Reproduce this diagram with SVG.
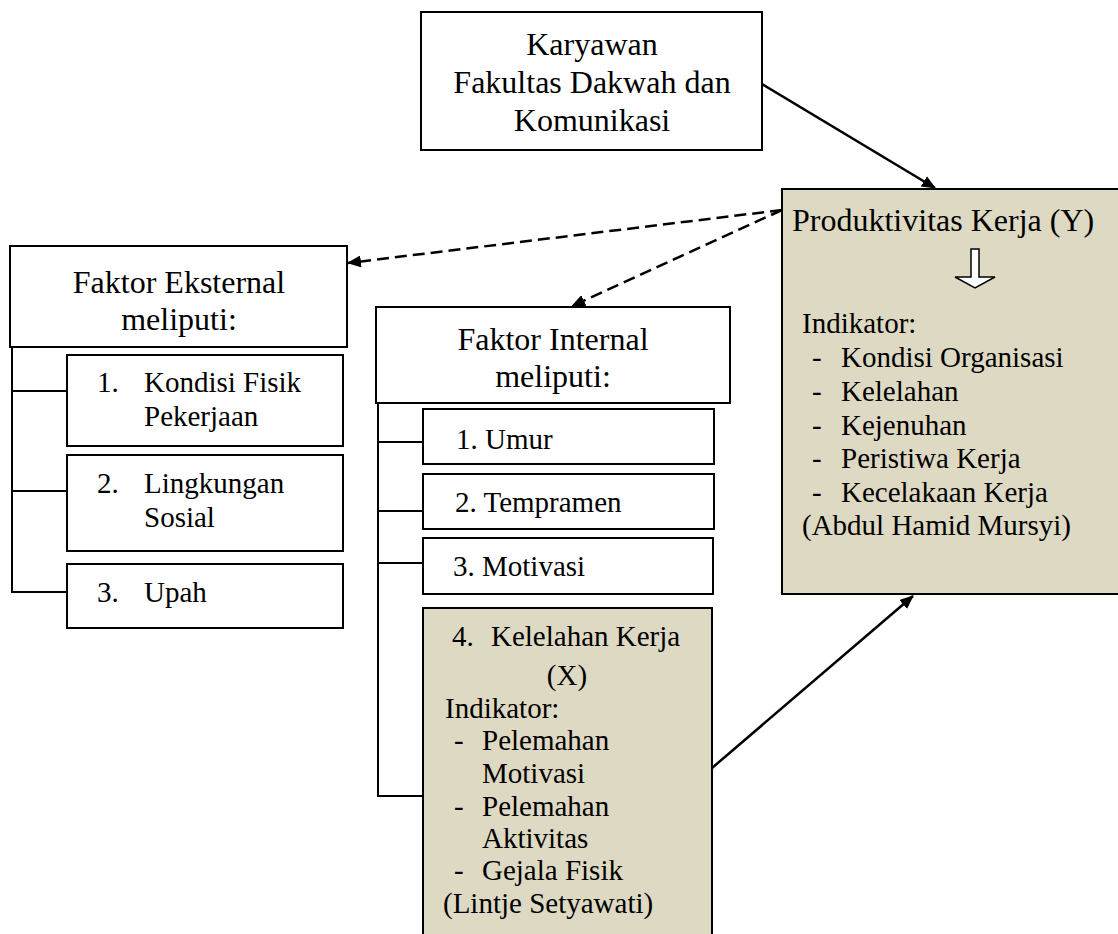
<svg xmlns="http://www.w3.org/2000/svg" width="1118" height="934" viewBox="0 0 1118 934" font-family="'Liberation Serif', Tinos, 'Times New Roman', Times, 'DejaVu Serif', serif">
<style>
.box{fill:#fff;stroke:#000;stroke-width:2}
.tan{fill:#ddd9c3;stroke:#000;stroke-width:2}
text{fill:#000}
.t32{font-size:32px}
.t29{font-size:29px}
.c{text-anchor:middle}
.tree{fill:none;stroke:#000;stroke-width:2}
.solid{fill:none;stroke:#000;stroke-width:2.5}
.dash{fill:none;stroke:#000;stroke-width:2.5;stroke-dasharray:12 6}
</style>
<defs>
<marker id="ah" viewBox="0 0 14 12" refX="13" refY="6" markerWidth="14" markerHeight="12" markerUnits="userSpaceOnUse" orient="auto">
<path d="M0,0 L14,6 L0,12 Z" fill="#000"/>
</marker>
</defs>

<g id="karyawan">
<rect class="box" x="421" y="12" width="341" height="138"/>
<text class="t32 c" x="592" y="55">Karyawan</text>
<text class="t32 c" x="592" y="93">Fakultas Dakwah dan</text>
<text class="t32 c" x="592" y="131">Komunikasi</text>
</g>

<g id="produktivitas">
<rect class="tan" x="782" y="189" width="340" height="405"/>
<text class="t32" x="792" y="231">Produktivitas Kerja (Y)</text>
<path d="M971,249 H979 V277 H995 L975,288 L955,277 H971 Z" fill="#fff" stroke="#000" stroke-width="1.5"/>
<text class="t29" x="802" y="333">Indikator:</text>
<text class="t29" x="812" y="367">-</text><text class="t29" x="841" y="367">Kondisi Organisasi</text>
<text class="t29" x="812" y="401">-</text><text class="t29" x="841" y="401">Kelelahan</text>
<text class="t29" x="812" y="435">-</text><text class="t29" x="841" y="435">Kejenuhan</text>
<text class="t29" x="812" y="468">-</text><text class="t29" x="841" y="468">Peristiwa Kerja</text>
<text class="t29" x="812" y="502">-</text><text class="t29" x="841" y="502">Kecelakaan Kerja</text>
<text class="t29" x="802" y="535">(Abdul Hamid Mursyi)</text>
</g>

<g id="faktor-eksternal">
<rect class="box" x="10" y="246" width="337" height="101"/>
<text class="t32 c" x="179" y="293">Faktor Eksternal</text>
<text class="t32 c" x="179" y="330">meliputi:</text>
</g>

<g id="ext-1">
<rect class="box" x="67" y="355" width="276" height="91"/>
<text class="t29" x="97" y="392">1.</text><text class="t29" x="144" y="392">Kondisi Fisik</text>
<text class="t29" x="144" y="426">Pekerjaan</text>
</g>
<g id="ext-2">
<rect class="box" x="67" y="455" width="276" height="96"/>
<text class="t29" x="97" y="493">2.</text><text class="t29" x="144" y="493">Lingkungan</text>
<text class="t29" x="144" y="527">Sosial</text>
</g>
<g id="ext-3">
<rect class="box" x="67" y="564" width="276" height="64"/>
<text class="t29" x="97" y="602">3.</text><text class="t29" x="144" y="602">Upah</text>
</g>

<g id="faktor-internal">
<rect class="box" x="376" y="307" width="354" height="96"/>
<text class="t32 c" x="553" y="350">Faktor Internal</text>
<text class="t32 c" x="553" y="387">meliputi:</text>
</g>

<g id="int-1">
<rect class="box" x="423" y="409" width="291" height="55"/>
<text class="t29" x="456" y="449">1. Umur</text>
</g>
<g id="int-2">
<rect class="box" x="423" y="474" width="291" height="55"/>
<text class="t29" x="455" y="512">2. Tempramen</text>
</g>
<g id="int-3">
<rect class="box" x="423" y="538" width="290" height="56"/>
<text class="t29" x="453" y="576">3. Motivasi</text>
</g>
<g id="int-4">
<rect class="tan" x="423" y="608" width="289" height="340"/>
<text class="t29" x="452" y="646">4.</text><text class="t29" x="491" y="646">Kelelahan Kerja</text>
<text class="t29 c" x="567" y="685">(X)</text>
<text class="t29" x="445" y="718">Indikator:</text>
<text class="t29" x="454" y="750">-</text><text class="t29" x="482" y="750">Pelemahan</text>
<text class="t29" x="482" y="783">Motivasi</text>
<text class="t29" x="454" y="816">-</text><text class="t29" x="482" y="816">Pelemahan</text>
<text class="t29" x="482" y="848">Aktivitas</text>
<text class="t29" x="454" y="880">-</text><text class="t29" x="482" y="880">Gejala Fisik</text>
<text class="t29" x="443" y="913">(Lintje Setyawati)</text>
</g>

<g id="connectors">
<path class="tree" d="M12,347 V592 H67 M12,391 H67 M12,491 H67"/>
<path class="tree" d="M378,403 V796 H423 M378,442 H423 M378,511 H423 M378,563 H423"/>
<line class="solid" x1="762" y1="84" x2="935" y2="188" marker-end="url(#ah)"/>
<line class="solid" x1="712" y1="768" x2="913" y2="596" marker-end="url(#ah)"/>
<line class="dash" x1="782" y1="210" x2="348" y2="263" marker-end="url(#ah)"/>
<line class="dash" x1="782" y1="210" x2="572" y2="306" marker-end="url(#ah)"/>
</g>
</svg>
